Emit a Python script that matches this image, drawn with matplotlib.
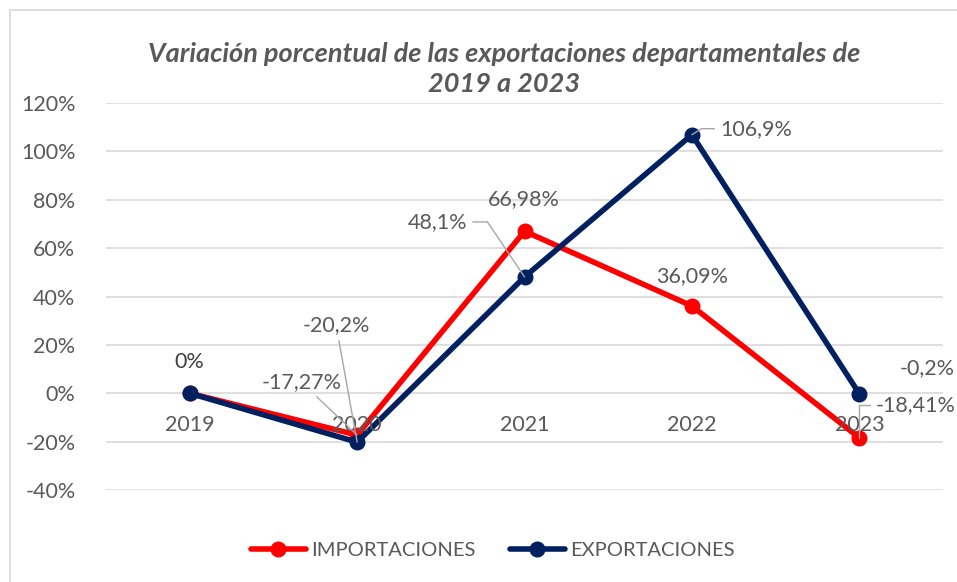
import matplotlib
matplotlib.use("Agg")
import matplotlib.pyplot as plt
from matplotlib.patches import Rectangle

plt.rcParams['font.family'] = ['Lato', 'DejaVu Sans']

years = ['2019', '2020', '2021', '2022', '2023']
importaciones = [0, -17.27, 66.98, 36.09, -18.41]
exportaciones = [0, -20.2, 48.1, 106.9, -0.2]
imp_labels = ['', '-17,27%', '66,98%', '36,09%', '-18,41%']
exp_labels = ['0%', '-20,2%', '48,1%', '106,9%', '-0,2%']
yticks = [-40, -20, 0, 20, 40, 60, 80, 100, 120]

RED = '#FF0000'
NAVY = '#002060'
GRAY = '#595959'
LEADER = '#A6A6A6'
FS = 15.5

fig = plt.figure(figsize=(9.57, 5.82), dpi=100)
ax = fig.add_axes([0.1108, 0.158, 0.8746, 0.665])

# outer frame of the chart
fig.patches.append(Rectangle((10 / 957, -0.1), 1.2, 1 - 10 / 582 + 0.1,
                             transform=fig.transFigure, fill=False,
                             edgecolor='#D9D9D9', linewidth=1.2))

x = list(range(len(years)))
ax.plot(x, importaciones, color=RED, lw=4, marker='o', ms=10.5,
        label='IMPORTACIONES', solid_capstyle='round', zorder=3)
ax.plot(x, exportaciones, color=NAVY, lw=4, marker='o', ms=10.5,
        label='EXPORTACIONES', solid_capstyle='round', zorder=4)

ax.set_xlim(-0.5, 4.5)
ax.set_ylim(-40, 120)
ax.set_yticks(yticks)
ax.set_yticklabels(['%d%%' % v for v in yticks])
ax.set_xticks([])
ax.tick_params(axis='y', length=0, pad=22, labelsize=FS, labelcolor=GRAY)
ax.grid(axis='y', color='#D9D9D9', linewidth=1.2)
ax.set_axisbelow(True)
for s in ax.spines.values():
    s.set_visible(False)

# category labels sit under the zero line
for i, yr in enumerate(years):
    ax.annotate(yr, (i, 0), xytext=(0, -32), textcoords='offset pixels',
                ha='center', va='center', fontsize=FS, color=GRAY, zorder=5)

# data labels: offsets in px and leader line shape
imp_offsets = [None, (-56, 53), (-1, 32), (0, 30), (56, 33)]
exp_offsets = [(0, 31), (-21, 117), (-87, 55), (64, 6), (68, 26)]
imp_conn = [None, 'arc3', None, None, 'angle,angleA=180,angleB=90,rad=0']
exp_conn = [None, 'arc3', 'angle,angleA=0,angleB=-56,rad=0',
            'angle,angleA=180,angleB=32,rad=0', None]
exp_colors = ['#404040', GRAY, GRAY, GRAY, GRAY]

def put_labels(vals, labels, offsets, conns, colors):
    for i, (v, lab, off, cs, c) in enumerate(zip(vals, labels, offsets, conns, colors)):
        if not lab:
            continue
        arrow = None
        if cs:
            arrow = dict(arrowstyle='-', color=LEADER, lw=1, shrinkA=2,
                         shrinkB=0, connectionstyle=cs)
        ax.annotate(lab, (i, v), xytext=off, textcoords='offset pixels',
                    ha='center', va='center', fontsize=FS, color=c,
                    arrowprops=arrow, zorder=6)

put_labels(importaciones, imp_labels, imp_offsets, imp_conn, [GRAY] * 5)
put_labels(exportaciones, exp_labels, exp_offsets, exp_conn, exp_colors)

fig.text(0.527, 0.882, 'Variación porcentual de las exportaciones departamentales de\n2019 a 2023',
         ha='center', va='center', fontsize=19.5, fontweight='bold', fontstyle='italic',
         color=GRAY, linespacing=1.3)

leg = ax.legend(loc='center', bbox_to_anchor=(0.462, -0.155), ncol=2, frameon=False,
                fontsize=14.5, handlelength=2.7, handletextpad=0.25, columnspacing=1.75)
for t in leg.get_texts():
    t.set_color(GRAY)

fig.savefig('out.png', dpi=100)
